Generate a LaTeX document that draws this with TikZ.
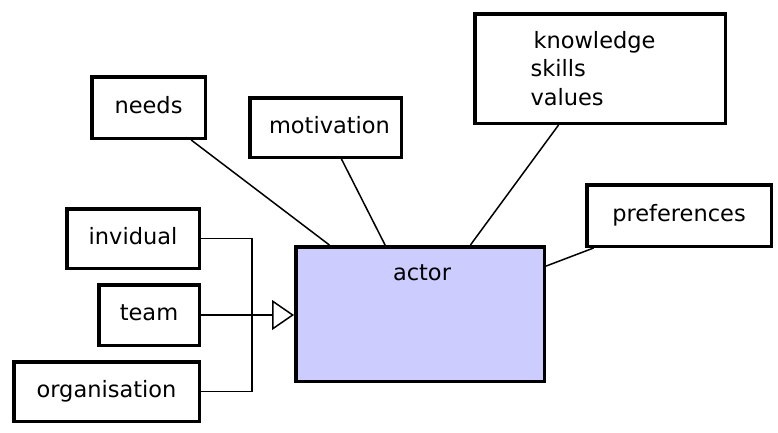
\documentclass[tikz,border=0pt]{standalone}
\usepackage{fontspec}
\setmainfont{DejaVu Sans}
\usetikzlibrary{arrows.meta,calc}
\definecolor{actorfill}{HTML}{CCCCFF}
\begin{document}
\begin{tikzpicture}[x=1pt,y=-1pt,
  labelfont/.style={font=\fontsize{22.5}{28.5}\selectfont},
  box/.style={draw=black, line width=3.5pt, fill=white, inner sep=0pt, labelfont},
  onerow/.style={text height=16pt, text depth=5pt},
  link/.style={draw=black, line width=1.5pt},
  genarrow/.style={link, -{Triangle[open, length=22pt, width=30pt, line width=1.5pt]}}]
\useasboundingbox (0,0) rectangle (778,432);

% surrounding concepts
\node[box, onerow, minimum width=113.5pt, minimum height=61.5pt] (needs) at (148.5,107.5) {needs};
\node[box, onerow, minimum width=151.5pt, minimum height=59.5pt] (motivation) at (325.5,127.5) {\hspace{8pt}motivation};
\node[box, minimum width=250.5pt, minimum height=109.5pt, align=left] (knowledge) at (600,68.5)
  {\kern3pt knowledge\rule{14pt}{0pt}\\skills\\values};
\node[box, onerow, minimum width=184.5pt, minimum height=61.5pt] (preferences) at (679,215.5) {preferences};

% central actor
\node[box, fill=actorfill, minimum width=248.5pt, minimum height=134.5pt] (actor) at (420,314) {};
\node[labelfont, inner sep=0pt] (actorlabel) at ($(actor.north)+(2,28)$) {actor};

% kinds of actor
\node[box, onerow, minimum width=132.5pt, minimum height=59.5pt] (invidual) at (133,238.5) {invidual};
\node[box, onerow, minimum width=100.5pt, minimum height=60.5pt] (team) at (149,315) {team};
\node[box, onerow, minimum width=185.5pt, minimum height=59.5pt] (organisation) at (106.5,391.5) {organisation};

% associations
\draw[link] (needs) -- (actor);
\draw[link] (motivation) -- (actor);
\draw[link] (knowledge) -- (actor);
\draw[link] (preferences) -- (actor);

% generalisation
\coordinate (bus) at (252,315);
\draw[link] (invidual.east) -| (bus) |- (organisation.east);
\draw[genarrow] (team.east) -- (actor.west |- team.east);
\end{tikzpicture}
\end{document}
